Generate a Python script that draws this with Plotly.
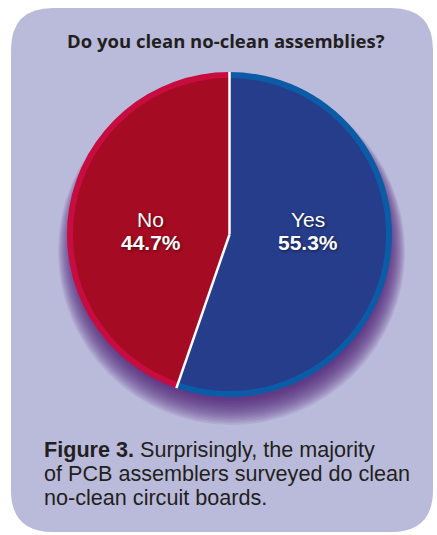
import math
import plotly.graph_objects as go

# ---- data ----
labels = ["Yes", "No"]
values = [55.3, 44.7]
fill_colors = ["#263d8b", "#a50b22"]
ring_colors = ["#0b5ba6", "#c70c3f"]
title_text = "Do you clean no-clean assemblies?"
caption_lines = [
    "<b>Figure 3.</b> Surprisingly, the majority",
    "of PCB assemblers surveyed do clean",
    "no-clean circuit boards.",
]

W, H = 437, 535
cx, cy = 229.5, 234.5       # pie centre in pixels (from top)
r_out, r_in = 162.5, 156.5  # ring outer / fill radius
TEXT_FONT = "Liberation Sans"

def dom(r):
    return dict(x=[(cx - r) / W, (cx + r) / W],
                y=[(H - cy - r) / H, (H - cy + r) / H])

fig = go.Figure()

# outer ring
fig.add_trace(go.Pie(labels=labels, values=values, sort=False, direction="clockwise",
                     rotation=0, domain=dom(r_out), textinfo="none", hoverinfo="skip",
                     marker=dict(colors=ring_colors, line=dict(width=0)), showlegend=False))
# inner fill
fig.add_trace(go.Pie(labels=labels, values=values, sort=False, direction="clockwise",
                     rotation=0, domain=dom(r_in), textinfo="none",
                     marker=dict(colors=fill_colors, line=dict(width=0)), showlegend=False))

shapes = []
# background panel (rounded rectangle)
x0, x1, y0, y1, rr = 11, 433, 8, 532, 42
path = (f"M {x0+rr},{H-y0} L {x1-rr},{H-y0} Q {x1},{H-y0} {x1},{H-y0-rr} "
        f"L {x1},{H-y1+rr} Q {x1},{H-y1} {x1-rr},{H-y1} L {x0+rr},{H-y1} "
        f"Q {x0},{H-y1} {x0},{H-y1+rr} L {x0},{H-y0-rr} Q {x0},{H-y0} {x0+rr},{H-y0} Z")
shapes.append(dict(type="path", path=path, xref="x", yref="y",
                   fillcolor="#babadb", line=dict(width=0), layer="below"))

# soft shadow under the pie (offset downward)
for i in range(18):
    rad = r_out + 11 - i
    scx, scy = cx + 2, cy + 17 - i * 0.5
    shapes.append(dict(type="circle", xref="x", yref="y",
                       x0=scx - rad, x1=scx + rad, y0=H - scy - rad, y1=H - scy + rad,
                       fillcolor="#4a1f78", opacity=0.08, line=dict(width=0), layer="below"))

# white separators between slices and slice labels, computed from the data
total = sum(values)
acc = 0
annotations = []
lab_font = dict(family=TEXT_FONT, size=21, color="white",
                shadow="1px 1px 3px rgba(0,0,0,0.55)")
for lab, v in zip(labels, values):
    ang = acc / total * 2 * math.pi
    ex = cx + r_out * math.sin(ang)
    ey = cy - r_out * math.cos(ang)
    shapes.append(dict(type="line", xref="x", yref="y", x0=cx, y0=H - cy, x1=ex, y1=H - ey,
                       line=dict(color="white", width=2.5), layer="above"))
    mid = (acc + v / 2) / total * 2 * math.pi
    lx = cx + 80 * math.sin(mid)
    annotations.append(dict(text=lab, x=lx, y=H - 219.4, xref="x", yref="y",
                            showarrow=False, yanchor="middle", borderpad=0, font=lab_font))
    annotations.append(dict(text=f"<b>{v / total * 100:.1f}%</b>", x=lx, y=H - 242.8,
                            xref="x", yref="y", showarrow=False, yanchor="middle",
                            borderpad=0, font=lab_font))
    acc += v

annotations.append(dict(text=f"<b>{title_text}</b>", x=226, y=H - 40, xref="x", yref="y",
                        showarrow=False, font=dict(family="Open Sans", size=18.5, color="#231f20")))
for i, line in enumerate(caption_lines):
    annotations.append(dict(text=line, x=43, y=H - (449.2 + 24.3 * i), xref="x", yref="y",
                            xanchor="left", yanchor="middle", align="left", showarrow=False,
                            borderpad=0,
                            font=dict(family=TEXT_FONT, size=21.6, color="#231f20")))

fig.update_layout(
    width=W, height=H, margin=dict(l=0, r=0, t=0, b=0),
    paper_bgcolor="white", plot_bgcolor="rgba(0,0,0,0)",
    xaxis=dict(range=[0, W], visible=False, fixedrange=True),
    yaxis=dict(range=[0, H], visible=False, fixedrange=True),
    shapes=shapes, annotations=annotations, showlegend=False,
)
fig.write_html("out.html", config={"displayModeBar": False},
               post_script="document.body.style.margin='0';")
